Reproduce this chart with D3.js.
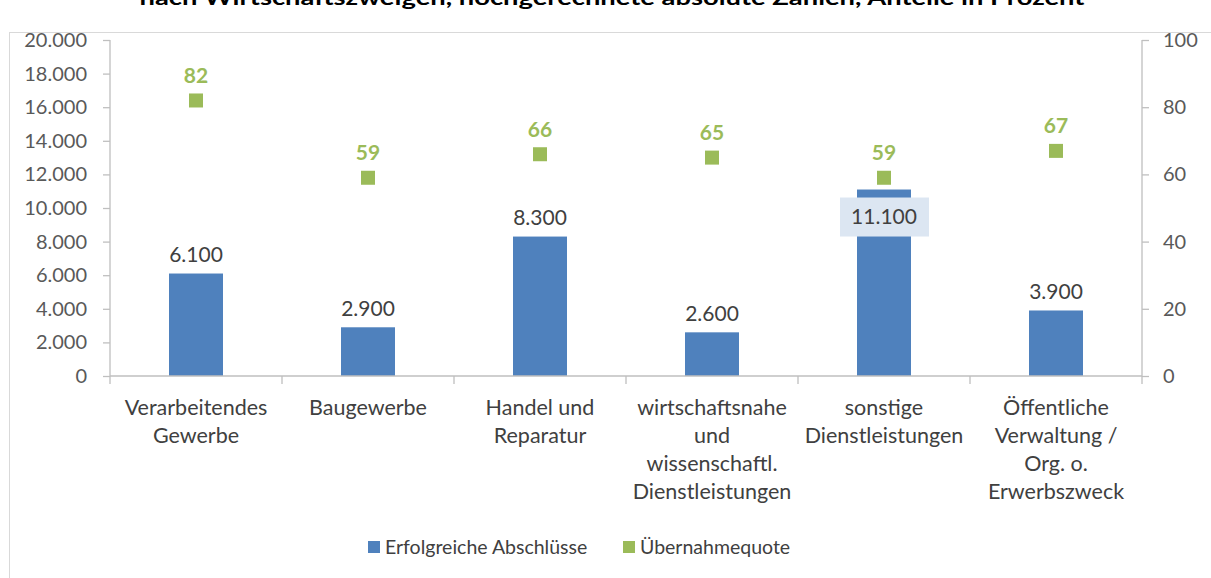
<!DOCTYPE html>
<html><head><meta charset="utf-8">
<script src="https://cdn.jsdelivr.net/npm/d3@7/dist/d3.min.js"></script>
<style>body{margin:0;background:#fff;} svg{display:block;font-family:Lato,"Open Sans",sans-serif;}</style>
</head><body>
<script>
const titleText = "nach Wirtschaftszweigen, hochgerechnete absolute Zahlen, Anteile in Prozent";
const categories = [
  ["Verarbeitendes","Gewerbe"],
  ["Baugewerbe"],
  ["Handel und","Reparatur"],
  ["wirtschaftsnahe","und","wissenschaftl.","Dienstleistungen"],
  ["sonstige","Dienstleistungen"],
  ["Öffentliche","Verwaltung /","Org. o.","Erwerbszweck"]
];
const abschluesse = [6100, 2900, 8300, 2600, 11100, 3900];
const quote = [82, 59, 66, 65, 59, 67];
const leftTicks = [0,2000,4000,6000,8000,10000,12000,14000,16000,18000,20000];
const rightTicks = [0,20,40,60,80,100];
const seriesNames = ["Erfolgreiche Abschlüsse","Übernahmequote"];

(function(){
const W = 1211, H = 578;
const blue = "#4F81BD", green = "#9BBB59", axisC = "#BFBFBF";
const svg = d3.select("body").append("svg").attr("width",W).attr("height",H);

svg.append("rect").attr("x",9.5).attr("y",32.5).attr("width",1300).attr("height",700)
  .attr("fill","none").attr("stroke","#D9D9D9");

svg.append("text").attr("x",612).attr("y",5).attr("text-anchor","middle")
  .attr("font-weight","bold").attr("font-size",20).attr("fill","#000")
  .attr("textLength",945).attr("lengthAdjust","spacingAndGlyphs").text(titleText);

const pL = 110, pR = 1142, pT = 40, pB = 376;
const x = d3.scaleBand().domain(d3.range(categories.length)).range([pL,pR]).paddingInner(0).paddingOuter(0);
const yL = d3.scaleLinear().domain([0,20000]).range([pB,pT]);
const yR = d3.scaleLinear().domain([0,100]).range([pB,pT]);
const fmt = d => d3.format(",")(d).replace(/,/g,".");

const gL = svg.append("g").attr("transform",`translate(${pL},0)`)
  .call(d3.axisLeft(yL).tickValues(leftTicks).tickSize(7).tickPadding(16).tickFormat(fmt));
const gR = svg.append("g").attr("transform",`translate(${pR},0)`)
  .call(d3.axisRight(yR).tickValues(rightTicks).tickSize(7).tickPadding(14));
[gL,gR].forEach(g=>{
  g.select(".domain").attr("stroke",axisC).attr("stroke-width",1.3);
  g.selectAll(".tick line").attr("stroke",axisC).attr("stroke-width",1.3);
  g.selectAll(".tick text").attr("fill","#595959").attr("font-size",20).attr("font-family","Lato");
});
gL.select(".domain").attr("d",`M0,${pT}V${pB}`);
gR.select(".domain").attr("d",`M0,${pT}V${pB}`);

const barW = 54;
svg.append("g").selectAll("rect").data(abschluesse).join("rect")
  .attr("x",(d,i)=>x(i)+x.bandwidth()/2-barW/2).attr("width",barW)
  .attr("y",d=>yL(d)).attr("height",d=>pB-yL(d)).attr("fill",blue);

const gB = svg.append("g");
gB.append("line").attr("x1",pL).attr("x2",pR).attr("y1",pB).attr("y2",pB)
  .attr("stroke",axisC).attr("stroke-width",1.3);
gB.selectAll("line.tk").data(d3.range(categories.length+1)).join("line").attr("class","tk")
  .attr("x1",i=>pL+i*x.bandwidth()).attr("x2",i=>pL+i*x.bandwidth())
  .attr("y1",pB).attr("y2",pB+8).attr("stroke",axisC).attr("stroke-width",1.3);
gB.selectAll("text").data(categories).join("text")
  .attr("text-anchor","middle").attr("fill","#404040").attr("font-size",21.5)
  .attr("transform",(d,i)=>`translate(${x(i)+x.bandwidth()/2},${pB+39})`)
  .each(function(lines){
    d3.select(this).selectAll("tspan").data(lines).join("tspan")
      .attr("x",0).attr("dy",(l,j)=>j?28:0).text(l=>l);
  });

const bl = svg.append("g");
abschluesse.forEach((v,i)=>{
  const cx = x(i)+x.bandwidth()/2;
  const inside = v >= 10000;
  const cy = inside ? yL(v)+27 : yL(v)-19;
  if(inside){
    bl.append("rect").attr("x",cx-44).attr("y",cy-19).attr("width",89).attr("height",39).attr("fill","#DCE6F2");
  }
  bl.append("text").attr("x",cx).attr("y",cy).attr("dy","0.35em").attr("text-anchor","middle")
    .attr("font-size",21).attr("fill","#404040").text(fmt(v));
});

const mk = 14;
svg.append("g").selectAll("rect").data(quote).join("rect")
  .attr("x",(d,i)=>x(i)+x.bandwidth()/2-mk/2).attr("y",d=>yR(d)-mk/2)
  .attr("width",mk).attr("height",mk).attr("fill",green);
svg.append("g").selectAll("text").data(quote).join("text")
  .attr("x",(d,i)=>x(i)+x.bandwidth()/2).attr("y",d=>yR(d)-25).attr("dy","0.35em")
  .attr("text-anchor","middle").attr("font-weight","bold").attr("font-size",21).attr("fill",green)
  .text(d=>d);

const lg = svg.append("g");
const legendItems = [{name:seriesNames[0],color:blue,x:368},{name:seriesNames[1],color:green,x:623}];
legendItems.forEach(it=>{
  lg.append("rect").attr("x",it.x).attr("y",541).attr("width",12).attr("height",12).attr("fill",it.color);
  lg.append("text").attr("x",it.x+17).attr("y",547).attr("dy","0.35em").attr("font-size",19.5)
    .attr("fill","#404040").text(it.name);
});
})();
</script>
</body></html>
